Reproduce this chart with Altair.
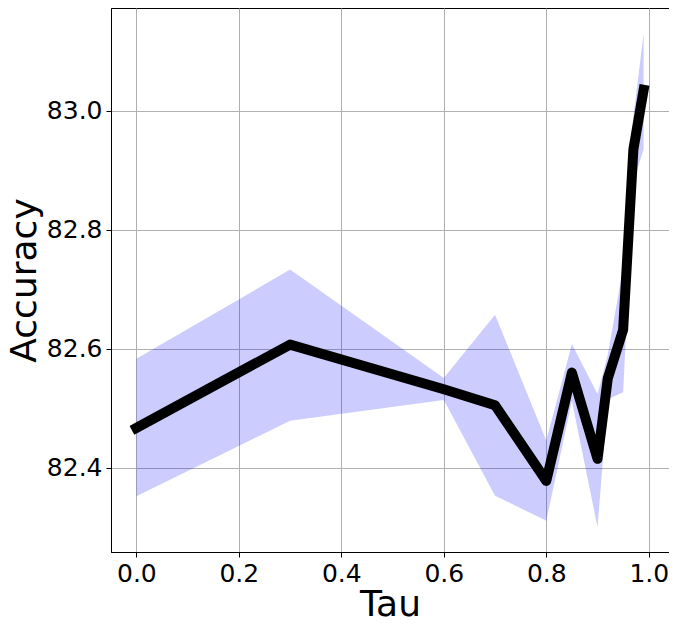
import altair as alt
import pandas as pd

tau = [0.0, 0.3, 0.6, 0.7, 0.8, 0.85, 0.9, 0.92, 0.95, 0.97, 0.99]
accuracy = [82.467, 82.607, 82.532, 82.505, 82.378, 82.560, 82.415, 82.550, 82.632, 82.935, 83.035]
acc_lower = [82.352, 82.479, 82.514, 82.353, 82.311, 82.512, 82.300, 82.515, 82.527, 82.880, 82.935]
acc_upper = [82.583, 82.733, 82.551, 82.657, 82.446, 82.608, 82.524, 82.590, 82.737, 82.990, 83.130]

x_ticks = [0.0, 0.2, 0.4, 0.6, 0.8, 1.0]
y_ticks = [82.4, 82.6, 82.8, 83.0]

df = pd.DataFrame({"tau": tau, "acc": accuracy, "lo": acc_lower, "hi": acc_upper})

FONT = "DejaVu Sans"

x_scale = alt.Scale(domain=[-0.0495, 1.0395], nice=False, zero=False)
y_scale = alt.Scale(domain=[82.2585, 83.1725], nice=False, zero=False)

x_axis = alt.Axis(
    values=x_ticks, format=".1f", title="Tau",
    labelFont=FONT, labelFontSize=25, labelColor="black",
    titleFont=FONT, titleFontSize=36, titleFontWeight="normal", titleColor="black",
    titleY=63, titleBaseline="alphabetic",
    tickSize=5, labelPadding=4, tickColor="black", domainColor="black",
    grid=True, gridColor="#b0b0b0", gridWidth=1,
)
y_axis = alt.Axis(
    values=y_ticks, format=".1f", title="Accuracy",
    labelFont=FONT, labelFontSize=25, labelColor="black",
    titleFont=FONT, titleFontSize=36, titleFontWeight="normal", titleColor="black",
    titleX=-76, titleY=272, titleAngle=270, titleAlign="center", titleBaseline="alphabetic",
    tickSize=5, labelPadding=4, tickColor="black", domainColor="black",
    grid=True, gridColor="#b0b0b0", gridWidth=1,
)

band = alt.Chart(df).mark_area(color="#0000ff", opacity=0.2).encode(
    x=alt.X("tau:Q", scale=x_scale, axis=x_axis),
    y=alt.Y("lo:Q", scale=y_scale, axis=y_axis),
    y2="hi:Q",
)

line = alt.Chart(df).mark_line(
    color="black", strokeWidth=10, strokeJoin="round", strokeCap="square"
).encode(
    x=alt.X("tau:Q", scale=x_scale),
    y=alt.Y("acc:Q", scale=y_scale),
)

chart = alt.layer(band, line).properties(
    width=558, height=544,
    autosize=alt.AutoSizeParams(type="none"),
    padding={"left": 103, "top": 0, "right": 0, "bottom": 66},
).configure_view(
    stroke="black", strokeWidth=1
)

chart.save("out.html", embed_options={"renderer": "svg", "actions": False})
